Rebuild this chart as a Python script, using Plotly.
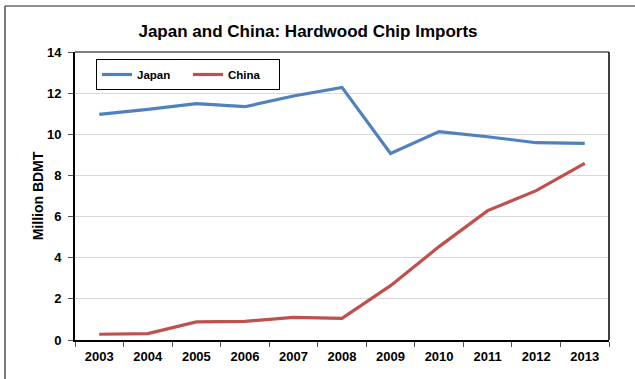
import plotly.graph_objects as go

years = ["2003", "2004", "2005", "2006", "2007", "2008", "2009", "2010", "2011", "2012", "2013"]
japan = [10.97, 11.21, 11.49, 11.34, 11.86, 12.28, 9.07, 10.13, 9.88, 9.59, 9.56]
china = [0.28, 0.31, 0.88, 0.91, 1.10, 1.05, 2.64, 4.54, 6.29, 7.26, 8.59]

font_family = "Liberation Sans, Arial, sans-serif"

W, H = 635, 379
ML, MR, MT, MB = 75, 26, 52, 39
PW, PH = W - ML - MR, H - MT - MB

fig = go.Figure()
fig.add_trace(go.Scatter(x=years, y=japan, mode="lines", name="<b>Japan</b>",
                         line=dict(color="#4F81BD", width=3.2)))
fig.add_trace(go.Scatter(x=years, y=china, mode="lines", name="<b>China</b>",
                         line=dict(color="#C0504D", width=3.2)))

fig.update_layout(
    width=W, height=H,
    margin=dict(l=ML, r=MR, t=MT, b=MB),
    paper_bgcolor="white", plot_bgcolor="white",
    font=dict(family=font_family, color="black"),
    title=dict(text="<b>Japan and China: Hardwood Chip Imports</b>",
               x=308 / W, xanchor="center", y=1 - 31 / H, yanchor="middle",
               font=dict(size=17, color="black", family=font_family)),
    showlegend=True,
    legend=dict(orientation="h", x=(96 - ML) / PW, y=1 - (59 - MT) / PH,
                xanchor="left", yanchor="top",
                bordercolor="black", borderwidth=1, bgcolor="white",
                font=dict(size=11.5, family=font_family, color="black"),
                itemwidth=30, entrywidth=46, tracegroupgap=0),
)

fig.update_xaxes(
    type="category", range=[-0.5, 10.5], tickson="boundaries",
    showline=True, linecolor="black", linewidth=2,
    ticks="outside", ticklen=5, tickcolor="#555555", tickwidth=1,
    showgrid=False, zeroline=False, ticklabelstandoff=3,
    tickfont=dict(size=13, family=font_family, color="black"),
    tickprefix="<b>", ticksuffix="</b>",
)
fig.update_yaxes(
    range=[0, 14], dtick=2, tick0=0,
    showline=True, linecolor="black", linewidth=2,
    ticks="outside", ticklen=5, tickcolor="#555555", tickwidth=1,
    showgrid=True, gridcolor="#D9D9D9", gridwidth=1, zeroline=False,
    ticklabelstandoff=4,
    tickfont=dict(size=13, family=font_family, color="black"),
    tickprefix="<b>", ticksuffix="</b>",
    title=dict(text="<b>Million BDMT</b>", font=dict(size=14, family=font_family, color="black"),
               standoff=0),
)

# plot area top (gray) and right (black) borders
fig.add_shape(type="line", xref="paper", yref="paper", x0=0, x1=1, y0=1, y1=1,
              line=dict(color="#7F7F7F", width=2))
fig.add_shape(type="line", xref="paper", yref="paper", x0=1, x1=1, y0=0, y1=1,
              line=dict(color="black", width=1.5))
# outer frame (top and left edges)
fx0 = (5 - ML) / PW
fy1 = 1 + (MT - 6) / PH
fig.add_shape(type="line", xref="paper", yref="paper",
              x0=fx0, x1=(W - ML) / PW, y0=fy1, y1=fy1,
              line=dict(color="#222222", width=1.2))
fig.add_shape(type="line", xref="paper", yref="paper",
              x0=fx0, x1=fx0, y0=-MB / PH, y1=fy1,
              line=dict(color="#222222", width=1.2))

fig.write_html("out.html", config={"displayModeBar": False},
               post_script="document.body.style.margin='0';")
